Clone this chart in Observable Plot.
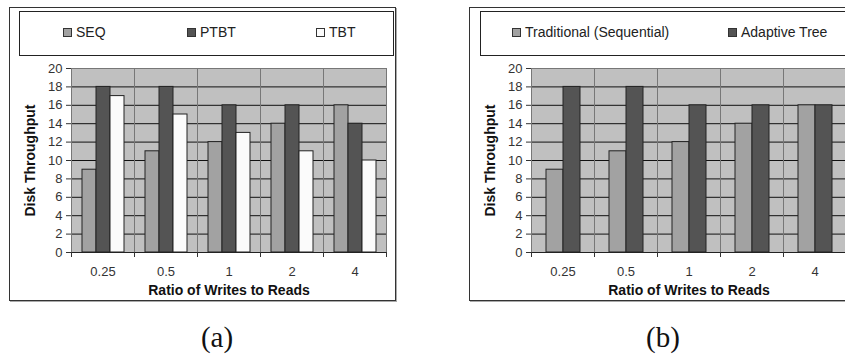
<!DOCTYPE html>
<html>
<head>
<meta charset="utf-8">
<script src="https://cdn.jsdelivr.net/npm/d3@7"></script>
<script src="https://cdn.jsdelivr.net/npm/@observablehq/plot@0.6"></script>
<style>
  body { margin: 0; background: #fff; }
  #page { position: relative; width: 845px; height: 356px; overflow: hidden;
          font-family: "Liberation Sans", Arial, sans-serif; }
  .box { position: absolute; border: 1px solid #333; box-shadow: 1px 1px 0 #aaa; background: #fff; }
  .legend { position: absolute; border: 1px solid #222; background: #fff; }
  .item { position: absolute; top: 12px; font-size: 14px; color: #222; line-height: 16px; white-space: nowrap; }
  .sw { display: inline-block; width: 7px; height: 7px; border: 1px solid #333; margin-right: 4px; }
  .chart { position: absolute; top: 0; }
  .chart g[aria-label="y-axis label"] text,
  .chart g[aria-label="fx-axis label"] text { font-weight: bold; font-size: 14px; fill: #111; }
  .chart g[aria-label="y-axis tick label"] text,
  .chart g[aria-label="fx-axis tick label"] text { fill: #333; }
  .caption { position: absolute; width: 100px; text-align: center; top: 323px;
             font-family: "Liberation Serif", serif; font-size: 29px; line-height: 29px; color: #111; }
</style>
</head>
<body>
<div id="page"></div>
<script>
// Write/read ratios on the x axis
const ratios = ["0.25", "0.5", "1", "2", "4"];
const yTicks = [0, 2, 4, 6, 8, 10, 12, 14, 16, 18, 20];

// Panel (a): three schemes
const seriesA = ["SEQ", "PTBT", "TBT"];
const seqA  = [9, 11, 12, 14, 16];
const ptbtA = [18, 18, 16, 16, 14];
const tbtA  = [17, 15, 13, 11, 10];

// Panel (b): two schemes
const seriesB = ["Traditional (Sequential)", "Adaptive Tree"];
const tradB  = [9, 11, 12, 14, 16];
const adaptB = [18, 18, 16, 16, 16];

const captions = ["(a)", "(b)"];
const xTitle = "Ratio of Writes to Reads";
const yTitle = "Disk Throughput";

const palette = { light: "#a2a2a2", dark: "#545454", white: "#fbfbfb" };

const page = document.getElementById("page");

function el(cls, css, parent = page) {
  const d = document.createElement("div");
  d.className = cls;
  Object.assign(d.style, css);
  parent.appendChild(d);
  return d;
}

const plotHeight = 310, mTop = 68, mBottom = 58;
const innerH = plotHeight - mTop - mBottom;

function panel({series, values, colors, paddingOuter, left, width, marginLeft, marginRight}) {
  const rows = series.flatMap((s, j) => ratios.map((r, i) => ({ratio: r, series: s, value: values[j][i]})));
  const svg = Plot.plot({
    width, height: plotHeight,
    marginLeft, marginRight, marginTop: mTop, marginBottom: mBottom,
    style: { fontFamily: "'Liberation Sans', Arial, sans-serif", fontSize: "13px", color: "#333",
             background: "none", overflow: "visible" },
    fx: { domain: ratios, padding: 0, axis: "bottom", label: xTitle, labelAnchor: "center",
          labelOffset: 42, tickSize: 0, tickPadding: 14 },
    x: { domain: series, paddingInner: 0, paddingOuter, axis: null },
    y: { domain: [0, 20], ticks: yTicks, tickSize: 5, tickPadding: 4, label: yTitle,
         labelAnchor: "center", labelOffset: 46, labelArrow: "none" },
    color: { domain: series, range: colors },
    marks: [
      Plot.frame({ fill: "#c0c0c0" }),
      Plot.ruleY(yTicks.filter(v => v < 20), { stroke: "#111", strokeWidth: 1 }),
      Plot.barY(rows, { fx: "ratio", x: "series", y: "value", fill: "series", stroke: "#222", strokeWidth: 1, inset: 0 }),
      Plot.frame({ stroke: "#777" }),
      Plot.ruleY([0], { stroke: "#222" }),
      // category boundary ticks under the axis
      Plot.frame({ anchor: "left", stroke: "#333", insetTop: innerH, insetBottom: -4 }),
      Plot.frame({ anchor: "right", stroke: "#333", insetTop: innerH, insetBottom: -4 })
    ]
  });
  svg.classList.add("chart");
  svg.style.left = left + "px";
  page.appendChild(svg);
}

// outer boxes
el("box", { left: "9px", top: "7px", width: "385px", height: "292px" });
el("box", { left: "469px", top: "7px", width: "420px", height: "292px" });

panel({ series: seriesA, values: [seqA, ptbtA, tbtA], colors: [palette.light, palette.dark, palette.white],
        paddingOuter: 0.7, left: 0, width: 420, marginLeft: 69, marginRight: 33 });
panel({ series: seriesB, values: [tradB, adaptB], colors: [palette.light, palette.dark],
        paddingOuter: 0.77, left: 440, width: 420, marginLeft: 89, marginRight: 13 });

// legends
function legend(left, width, series, colors, offsets) {
  const lg = el("legend", { left: left + "px", top: "11px", width: width + "px", height: "43px" });
  series.forEach((s, i) => {
    const it = el("item", { left: offsets[i] + "px" }, lg);
    const sw = document.createElement("span");
    sw.className = "sw";
    sw.style.background = colors[i];
    it.appendChild(sw);
    it.appendChild(document.createTextNode(s));
  });
}
legend(19, 373, seriesA, [palette.light, palette.dark, palette.white], [43, 167, 296]);
legend(480, 420, seriesB, [palette.light, palette.dark], [31, 247]);

// captions
el("caption", { left: "167px" }).textContent = captions[0];
el("caption", { left: "613px" }).textContent = captions[1];
</script>
</body>
</html>
